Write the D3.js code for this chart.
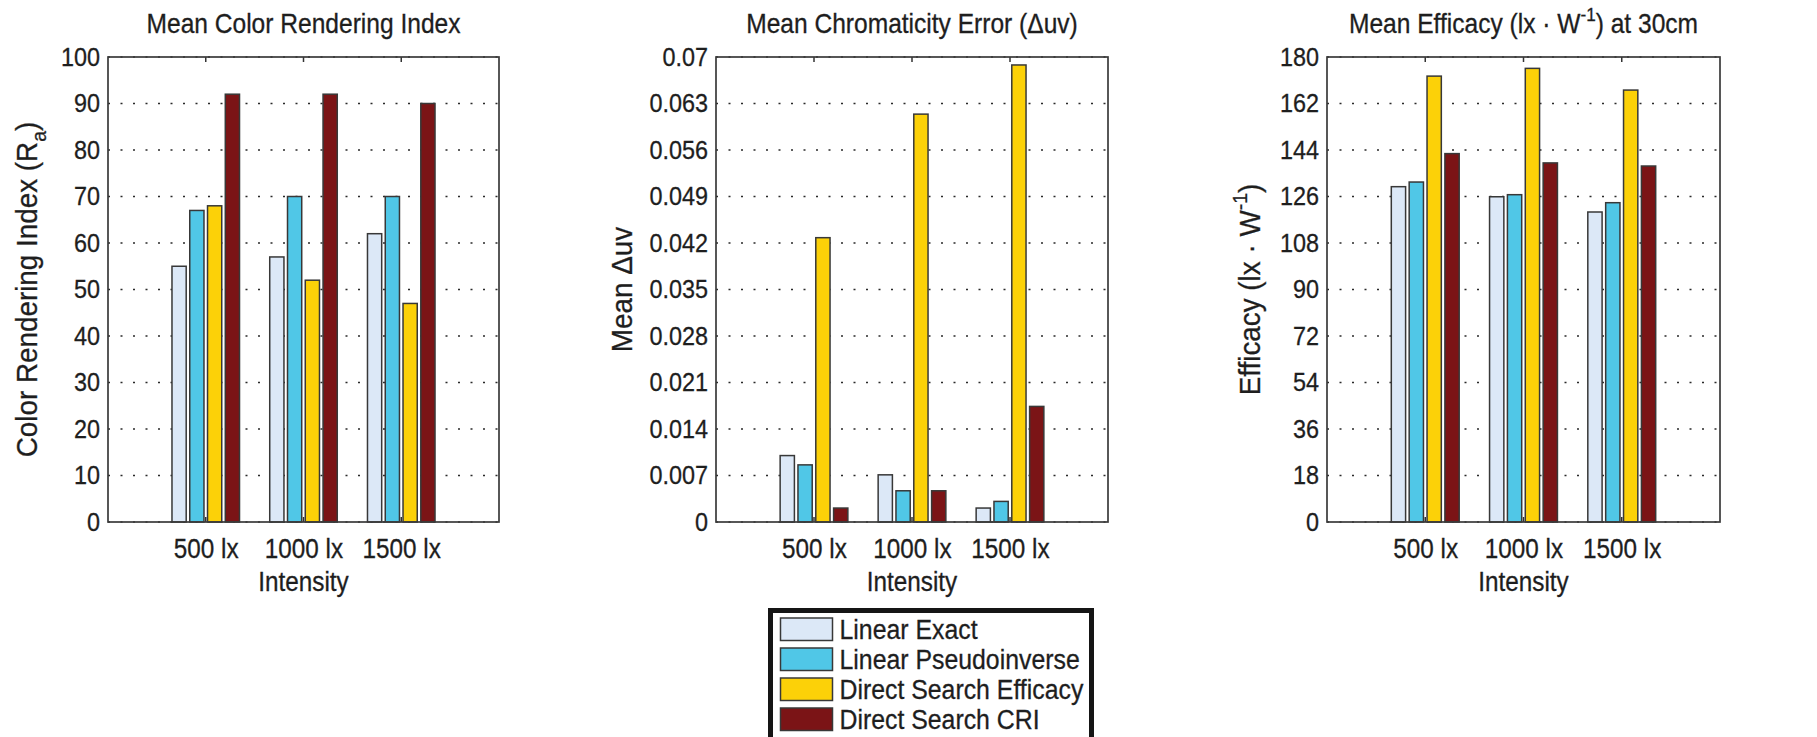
<!DOCTYPE html>
<html>
<head>
<meta charset="utf-8">
<script src="https://cdn.jsdelivr.net/npm/d3@7/dist/d3.min.js"></script>
<style>
  body { margin: 0; background: #fff; }
  svg { display: block; font-family: "Liberation Sans", Arial, Helvetica, sans-serif; }
  text { fill: #1e1e1e; stroke: #1e1e1e; stroke-width: 0.3px; }
</style>
</head>
<body>
<svg id="chart" width="1817" height="737"></svg>
<script>
"use strict";

// ---- data ----
const categories = ["500 lx", "1000 lx", "1500 lx"];
const seriesNames = ["Linear Exact", "Linear Pseudoinverse", "Direct Search Efficacy", "Direct Search CRI"];
const seriesColors = ["#dce8f7", "#50c7e7", "#fcd108", "#7b1416"];

// rows = categories, columns = series
const criValues = [
    [55, 67, 68, 92],
    [57, 70, 52, 92],
    [62, 70, 47, 90]
];
const duvValues = [
    [0.0100, 0.0086, 0.0428, 0.0021],
    [0.0071, 0.0047, 0.0614, 0.0047],
    [0.0021, 0.0031, 0.0688, 0.0174]
];
const efficacyValues = [
    [129.8, 131.6, 172.6, 142.6],
    [125.9, 126.7, 175.6, 139.0],
    [120.0, 123.6, 167.2, 137.8]
];

const criTicks = [0, 10, 20, 30, 40, 50, 60, 70, 80, 90, 100];
const duvTicks = [0, 0.007, 0.014, 0.021, 0.028, 0.035, 0.042, 0.049, 0.056, 0.063, 0.07];
const duvTickLabels = ["0", "0.007", "0.014", "0.021", "0.028", "0.035", "0.042", "0.049", "0.056", "0.063", "0.07"];
const efficacyTicks = [0, 18, 36, 54, 72, 90, 108, 126, 144, 162, 180];

// ---- layout ----
const plotTop = 57, plotBottom = 522;
const groupWidth = 4 / 5.5;           // matlab grouped bar width
const barPitch = groupWidth / seriesNames.length;
const barWidth = barPitch * 0.8;
const squeeze = 0.9;                  // the source font is narrower than Liberation Sans

const panels = [
    {
        left: 108, right: 499, values: criValues, ticks: criTicks,
        labels: criTicks.map(String),
        title: [{t: "Mean Color Rendering Index"}],
        ylabel: [{t: "Color Rendering Index (R"}, {t: "a", sub: true}, {t: ")"}],
        ylabelX: 37
    },
    {
        left: 716, right: 1108, values: duvValues, ticks: duvTicks,
        labels: duvTickLabels,
        title: [{t: "Mean Chromaticity Error (\u0394uv)"}],
        ylabel: [{t: "Mean \u0394uv"}],
        ylabelX: 632
    },
    {
        left: 1327, right: 1720, values: efficacyValues, ticks: efficacyTicks,
        labels: efficacyTicks.map(String),
        title: [{t: "Mean Efficacy (lx \u00b7 W"}, {t: "-1", sup: true}, {t: ") at 30cm"}],
        ylabel: [{t: "Efficacy (lx \u00b7 W"}, {t: "-1", sup: true}, {t: ")"}],
        ylabelX: 1260
    }
];

const svg = d3.select("#chart");
svg.append("rect").attr("width", 1817).attr("height", 737).attr("fill", "#fff");

/** writes plain / super / subscript pieces into a text element */
function richText(textSel, parts) {
    let shift = 0;
    parts.forEach(p => {
        const ts = textSel.append("tspan").text(p.t);
        let target = 0;
        if (p.sup) target = -0.45;
        if (p.sub) target = 0.3;
        if (p.sup || p.sub) ts.style("font-size", "70%");
        const dy = target - shift;
        if (dy !== 0) ts.attr("dy", (p.sup || p.sub ? dy / 0.7 : dy) + "em");
        shift = target;
    });
}

/** narrows texts horizontally around their own anchor */
function narrow(sel, k) {
    sel.each(function () {
        const t = d3.select(this);
        const x = +t.attr("x") || 0;
        t.attr("x", x / k).attr("transform", `scale(${k},1)`);
    });
}

function label(parent, x, y, size, k, rotate) {
    return parent.append("text")
        .attr("transform", `translate(${x},${y})` + (rotate ? " rotate(-90)" : "") + ` scale(${k},1)`)
        .attr("text-anchor", "middle")
        .style("font-size", size + "px");
}

panels.forEach(p => {
    const x = d3.scaleLinear().domain([0, categories.length + 1]).range([p.left, p.right]);
    const y = d3.scaleLinear().domain([p.ticks[0], p.ticks[p.ticks.length - 1]]).range([plotBottom, plotTop]);
    const g = svg.append("g");

    // grid
    g.append("g").selectAll("line").data(p.ticks).join("line")
        .attr("x1", p.left).attr("x2", p.right)
        .attr("y1", d => y(d)).attr("y2", d => y(d))
        .attr("stroke", "#2a2a2a").attr("stroke-width", 1.4)
        .attr("stroke-dasharray", "2,10.5");

    // category ticks (top and bottom, inward)
    const catPos = categories.map((c, i) => i + 1);
    g.append("g").selectAll("line").data(catPos).join("line")
        .attr("x1", d => x(d)).attr("x2", d => x(d))
        .attr("y1", plotTop).attr("y2", plotTop + 5)
        .attr("stroke", "#333").attr("stroke-width", 1.5);
    g.append("g").selectAll("line").data(catPos).join("line")
        .attr("x1", d => x(d)).attr("x2", d => x(d))
        .attr("y1", plotBottom).attr("y2", plotBottom - 5)
        .attr("stroke", "#333").attr("stroke-width", 1.5);

    // bars
    const cells = [];
    p.values.forEach((row, ci) => row.forEach((v, si) => cells.push({ci, si, v})));
    const offset = si => (si - (seriesNames.length - 1) / 2) * barPitch;
    g.append("g").selectAll("rect").data(cells).join("rect")
        .attr("x", d => x(d.ci + 1 + offset(d.si) - barWidth / 2))
        .attr("width", d => x(barWidth) - x(0))
        .attr("y", d => y(d.v))
        .attr("height", d => y(0) - y(d.v))
        .attr("fill", d => seriesColors[d.si])
        .attr("stroke", "#383838").attr("stroke-width", 1.5);

    // frame
    g.append("rect")
        .attr("x", p.left).attr("y", plotTop)
        .attr("width", p.right - p.left).attr("height", plotBottom - plotTop)
        .attr("fill", "none").attr("stroke", "#3a3a3a").attr("stroke-width", 1.7);

    // y axis labels
    const yAxis = g.append("g").attr("transform", `translate(${p.left},0)`)
        .call(d3.axisLeft(y).tickValues(p.ticks).tickFormat((d, i) => p.labels[i]).tickSize(0).tickPadding(8));
    yAxis.select(".domain").remove();
    yAxis.selectAll("text").style("font-size", "26px").style("font-family", null).attr("fill", "#1e1e1e");
    narrow(yAxis.selectAll("text"), squeeze);

    // x axis labels
    const xAxis = g.append("g").attr("transform", `translate(0,${plotBottom})`)
        .call(d3.axisBottom(x).tickValues(catPos).tickFormat((d, i) => categories[i]).tickSize(0).tickPadding(17));
    xAxis.select(".domain").remove();
    xAxis.selectAll("text").style("font-size", "27px").style("font-family", null).attr("fill", "#1e1e1e");
    narrow(xAxis.selectAll("text"), squeeze);

    const cx = (p.left + p.right) / 2;
    label(g, cx, 591, 27, squeeze, false).text("Intensity");

    richText(label(g, cx, 33, 27, 0.91, false), p.title);

    richText(label(g, p.ylabelX, (plotTop + plotBottom) / 2, 29, 0.96, true), p.ylabel);
});

// ---- legend ----
const legend = svg.append("g").attr("transform", "translate(770.5,610.5)");
legend.append("rect").attr("width", 321).attr("height", 140)
    .attr("fill", "#fff").attr("stroke", "#151515").attr("stroke-width", 5);
const row = legend.selectAll("g.item").data(seriesNames).join("g")
    .attr("class", "item")
    .attr("transform", (d, i) => `translate(10,${7.5 + i * 30})`);
row.append("rect").attr("width", 52).attr("height", 22.5)
    .attr("fill", (d, i) => seriesColors[i])
    .attr("stroke", "#383838").attr("stroke-width", 1.5);
const legendText = row.append("text").attr("x", 59).attr("y", 20.5)
    .style("font-size", "27px").text(d => d);
narrow(legendText, 0.92);
</script>
</body>
</html>
